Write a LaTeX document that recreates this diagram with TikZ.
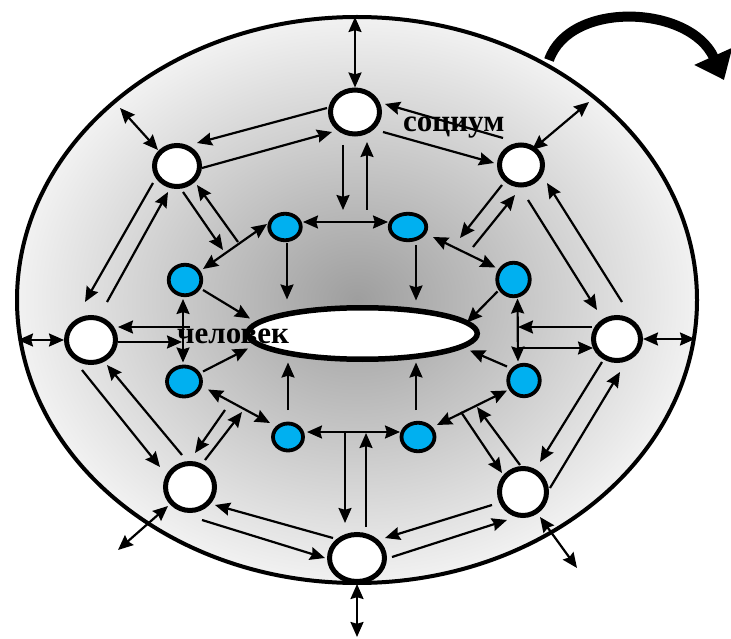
\documentclass[tikz,border=0pt]{standalone}
\usepackage{fontspec}
\setmainfont{Liberation Serif}
\usetikzlibrary{arrows.meta,shapes.geometric,calc}
\definecolor{shin}{RGB}{158,158,158}
\definecolor{shout}{RGB}{242,242,242}
\definecolor{cyanblue}{RGB}{0,176,240}
\begin{document}
\begin{tikzpicture}[x=1pt,y=-1pt,
  wnode/.style={ellipse,draw=black,fill=white,line width=5pt,inner sep=0pt},
  bnode/.style={ellipse,draw=black,fill=cyanblue,line width=3.8pt,inner sep=0pt},
  hole/.style={ellipse,draw=black,fill=white,line width=5.5pt,inner sep=0pt},
  con/.style={line width=2.2pt,-{Stealth[length=15pt,width=13pt,inset=1.8pt]}},
  dcon/.style={line width=2.2pt,{Stealth[length=15pt,width=13pt,inset=1.8pt]}-{Stealth[length=15pt,width=13pt,inset=1.8pt]}},
  lbl/.style={font=\bfseries\fontsize{31}{31}\selectfont,inner sep=0pt,anchor=base west}]
\useasboundingbox (0,0) rectangle (731,639);
% outer ring (socium)
\shade[inner color=shin,outer color=shout] (357,300) ellipse [x radius=342pt,y radius=285pt];
\draw[line width=4pt] (357,300) ellipse [x radius=340pt,y radius=283pt];
% hole (chelovek)
\node[hole,minimum width=229.5pt,minimum height=51.5pt] (H) at (362.5,333.5) {};
% outer white nodes
\node[wnode,minimum width=49pt,minimum height=44pt] (T)  at (355,112) {};
\node[wnode,minimum width=45pt,minimum height=41pt] (TL) at (177,166) {};
\node[wnode,minimum width=43pt,minimum height=40pt] (TR) at (521,165) {};
\node[wnode,minimum width=49pt,minimum height=45pt] (L)  at (91,340) {};
\node[wnode,minimum width=47pt,minimum height=43pt] (R)  at (617,339) {};
\node[wnode,minimum width=49pt,minimum height=47pt] (BL) at (190,487) {};
\node[wnode,minimum width=47pt,minimum height=47pt] (BR) at (523,492) {};
\node[wnode,minimum width=55pt,minimum height=47pt] (B)  at (357,558) {};
% inner blue nodes
\node[bnode,minimum width=31.5pt,minimum height=26.5pt] (b1) at (285,227) {};
\node[bnode,minimum width=36.5pt,minimum height=26.5pt] (b2) at (408,227) {};
\node[bnode,minimum width=32.5pt,minimum height=33.5pt] (b3) at (513.5,279.5) {};
\node[bnode,minimum width=31.5pt,minimum height=31.5pt] (b4) at (524,380.5) {};
\node[bnode,minimum width=33pt,minimum height=28.5pt] (b5) at (418,437) {};
\node[bnode,minimum width=30pt,minimum height=27pt] (b6) at (288,437) {};
\node[bnode,minimum width=34pt,minimum height=30pt] (b7) at (184,381.5) {};
\node[bnode,minimum width=32.5pt,minimum height=30.5pt] (b8) at (185,280) {};
% free ends
\coordinate (eT) at (355,17);
\coordinate (eTL) at (120,108);
\coordinate (eTR) at (589,102);
\coordinate (eL) at (18,340);
\coordinate (eR) at (695,339);
\coordinate (eBL) at (118,550);
\coordinate (eBR) at (577,568);
\coordinate (eB) at (357,637);
\coordinate (jT1) at (343,210); \coordinate (jT2) at (367,210);
\coordinate (jB1) at (345,433); \coordinate (jB2) at (366,433);
\coordinate (jL1) at (190,327); \coordinate (jL2) at (182,342);
\coordinate (jR1) at (518,327); \coordinate (jR2) at (518,348);
\coordinate (jTL1) at (223,250); \coordinate (jTL2) at (238,242);
\coordinate (jTR1) at (460,238); \coordinate (jTR2) at (473,247);
\coordinate (jBL1) at (225,410); \coordinate (jBL2) at (242,412);
\coordinate (jBR1) at (461,412); \coordinate (jBR2) at (477,407);
% outer ring connectors
\draw[con] ($(T)+(-28,-4)$) -- ($(TL)+(20,-23)$);
\draw[con] ($(TL)+(25,2)$) -- ($(T)+(-23,20)$);
\draw[con] ($(TR)+(-18,-27)$) -- ($(T)+(30,-8)$);
\draw[con] ($(T)+(28,20)$) -- ($(TR)+(-27,-2)$);
\draw[con] ($(TL)+(-24,17)$) -- ($(L)+(-6,-38)$);
\draw[con] ($(L)+(16,-38)$) -- ($(TL)+(-9,26)$);
\draw[con] ($(L)+(-9,30)$) -- ($(BL)+(-30,-20)$);
\draw[con] ($(BL)+(-8,-32)$) -- ($(L)+(16,25)$);
\draw[con] ($(BL)+(12,33)$) -- ($(B)+(-32,0)$);
\draw[con] ($(B)+(-24,-20)$) -- ($(BL)+(25,18)$);
\draw[con] ($(BR)+(-31,13)$) -- ($(B)+(28,-20)$);
\draw[con] ($(B)+(35,-1)$) -- ($(BR)+(-16,28)$);
\draw[con] ($(R)+(-15,23)$) -- ($(BR)+(17,-30)$);
\draw[con] ($(BR)+(27,-4)$) -- ($(R)+(3,33)$);
\draw[con] ($(TR)+(7,35)$) -- ($(R)+(-20,-29)$);
\draw[con] ($(R)+(5,-37)$) -- ($(TR)+(26,18)$);
% to the outer boundary
\draw[dcon] (T.north) -- (eT);
\draw[dcon] ($(TL)+(-19,-16)$) -- (eTL);
\draw[dcon] ($(TR)+(11,-15)$) -- (eTR);
\draw[dcon] (L.west) -- (eL);
\draw[dcon] (R.east) -- (eR);
\draw[dcon] ($(BL)+(-22,19)$) -- (eBL);
\draw[dcon] ($(BR)+(17,25)$) -- (eBR);
\draw[dcon] (B.south) -- (eB);
% outer nodes to inner ring
\draw[con] ($(T)+(-12,33)$) -- (jT1);
\draw[con] (jT2) -- ($(T)+(12,30)$);
\draw[con] (jB1) -- ($(B)+(-12,-35)$);
\draw[con] ($(B)+(9,-31)$) -- (jB2);
\draw[con] (jL1) -- ($(L)+(27,-13)$);
\draw[con] ($(L)+(27,2)$) -- (jL2);
\draw[con] ($(R)+(-25,-12)$) -- (jR1);
\draw[con] (jR2) -- ($(R)+(-24,9)$);
\draw[con] ($(TL)+(6,26)$) -- (jTL1);
\draw[con] (jTL2) -- ($(TL)+(20,19)$);
\draw[con] ($(TR)+(-19,20)$) -- (jTR1);
\draw[con] (jTR2) -- ($(TR)+(-6,30)$);
\draw[con] (jBL1) -- ($(BL)+(5,-34)$);
\draw[con] ($(BL)+(15,-27)$) -- (jBL2);
\draw[con] (jBR1) -- ($(BR)+(-21,-19)$);
\draw[con] ($(BR)+(-3,-27)$) -- (jBR2);
% inner ring
\draw[dcon] ($(b1)+(18,-5)$) -- ($(b2)+(-20,-5)$);
\draw[dcon] ($(b8)+(18,-11)$) -- ($(b1)+(-18,-3)$);
\draw[dcon] ($(b8)+(-2,19)$) -- ($(b7)+(-1,-19)$);
\draw[dcon] ($(b7)+(24,8)$) -- ($(b6)+(-18,-14)$);
\draw[dcon] ($(b6)+(19,-5)$) -- ($(b5)+(-18,-5)$);
\draw[dcon] ($(b5)+(19,-12)$) -- ($(b4)+(-17,10)$);
\draw[dcon] ($(b3)+(4,19)$) -- ($(b4)+(-6,-19)$);
\draw[dcon] ($(b3)+(-18,-12)$) -- ($(b2)+(25,10)$);
% inner ring to the hole
\draw[con] ($(b1)+(2,16)$) -- ($(H)+(-75.5,-34)$);
\draw[con] ($(b2)+(8,18)$) -- ($(H)+(53.5,-33)$);
\draw[con] ($(b8)+(18,10)$) -- ($(H)+(-112.5,-15)$);
\draw[con] ($(b7)+(19,-10)$) -- ($(H)+(-114.5,15)$);
\draw[con] ($(b3)+(-16,12)$) -- ($(H)+(104.5,-11)$);
\draw[con] ($(b4)+(-17,-14)$) -- ($(H)+(107.5,17)$);
\draw[con] ($(b6)+(0,-27)$) -- ($(H)+(-74.5,29)$);
\draw[con] ($(b5)+(-2,-27)$) -- ($(H)+(53.5,29)$);
% labels
\node[lbl] (soc) at (403,132) {социум};
\node[lbl] (man) at (177,343) {человек};
% big curved arrow
\draw[line width=10pt,-{Triangle[length=26pt,width=40pt]}] (549,60) .. controls (570,0) and (690,5) .. (724,80);
\end{tikzpicture}
\end{document}
